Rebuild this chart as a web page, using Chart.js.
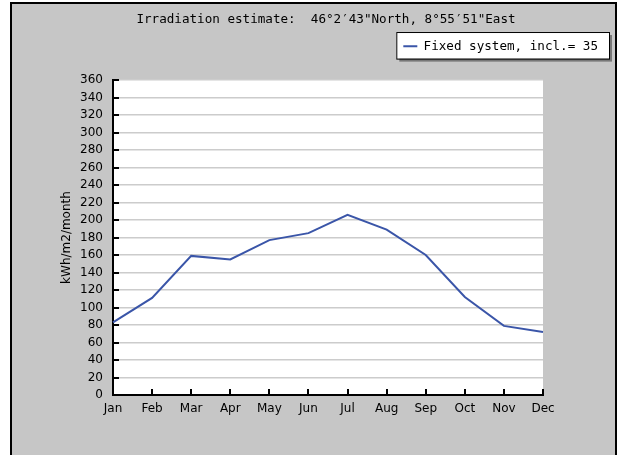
<!DOCTYPE html>
<html>
<head>
<meta charset="utf-8">
<script src="https://cdn.jsdelivr.net/npm/chart.js@4/dist/chart.umd.min.js"></script>
<style>
  html, body { margin: 0; padding: 0; background: #fff; }
  #grafico { display: block; }
</style>
</head>
<body>
<canvas id="grafico" width="622" height="455"></canvas>
<script>
const meses = ["Jan", "Feb", "Mar", "Apr", "May", "Jun", "Jul", "Aug", "Sep", "Oct", "Nov", "Dec"]
const irradiacao = [83, 111, 159, 155, 177, 185, 206, 189, 160, 112, 79, 72]
const yMin = 0
const yMax = 360
const yPasso = 20

const titulo = 'Irradiation estimate:  46\u00b02\u203243"North, 8\u00b055\u203251"East'
const serie = "Fixed system, incl.= 35"
const eixoY = "kWh/m2/month"

const azul = "#3a55a8"
const cinza = "#c6c6c6"
const mono = "'DejaVu Sans Mono', monospace"
const sans = "'DejaVu Sans', sans-serif"

// fundo cinza com borda, area do grafico branca, caixa da legenda
const fundo = {
    id: "fundo",
    beforeDraw(chart) {
        const ctx = chart.ctx
        const a = chart.chartArea
        ctx.save()
        ctx.fillStyle = "#fff"
        ctx.fillRect(0, 0, chart.width, chart.height)
        ctx.fillStyle = cinza
        ctx.fillRect(11, 3, 605, 470)
        ctx.strokeStyle = "#000"
        ctx.lineWidth = 2
        ctx.strokeRect(11, 3, 605, 470)
        ctx.fillStyle = "#fff"
        ctx.fillRect(a.left, a.top, a.right - a.left, a.bottom - a.top)

        const hb = chart.legend.legendHitBoxes[0]
        if (hb) {
            const x = hb.left - 7, y = hb.top - 8
            const w = hb.width + 18, h = hb.height + 14
            ctx.fillStyle = "#777"
            ctx.fillRect(x + 3, y + 3, w, h)
            ctx.fillStyle = "#fff"
            ctx.fillRect(x, y, w, h)
            ctx.strokeStyle = "#000"
            ctx.lineWidth = 1
            ctx.strokeRect(x + 0.5, y + 0.5, w, h)
        }
        ctx.restore()
    },
    afterDraw(chart) {
        // marcas curtas para dentro dos eixos
        const ctx = chart.ctx
        const a = chart.chartArea
        const sx = chart.scales.x, sy = chart.scales.y
        ctx.save()
        ctx.strokeStyle = "#000"
        ctx.lineWidth = 2
        ctx.beginPath()
        sy.ticks.forEach(t => {
            const y = Math.round(sy.getPixelForValue(t.value))
            ctx.moveTo(a.left, y)
            ctx.lineTo(a.left + 6, y)
        })
        meses.forEach((m, i) => {
            const x = Math.round(sx.getPixelForValue(i))
            ctx.moveTo(x, a.bottom)
            ctx.lineTo(x, a.bottom - 6)
        })
        ctx.stroke()
        ctx.restore()
    }
}

const grafico = new Chart(document.getElementById("grafico"), {
    type: "line",
    data: {
        labels: meses,
        datasets: [{
            label: serie,
            data: irradiacao,
            borderColor: azul,
            backgroundColor: azul,
            borderWidth: 2,
            pointRadius: 0,
            tension: 0,
            fill: false
        }]
    },
    options: {
        responsive: false,
        animation: false,
        layout: { padding: { left: 46, right: 16, top: 0, bottom: 40 } },
        plugins: {
            title: {
                display: true,
                text: titulo,
                color: "#000",
                font: { family: mono, size: 12.6, weight: "normal" },
                padding: { top: 12.4, bottom: 4.5 }
            },
            legend: {
                display: true,
                position: "top",
                align: "end",
                labels: {
                    usePointStyle: true,
                    pointStyle: "line",
                    pointStyleWidth: 14,
                    padding: 8,
                    color: "#000",
                    font: { family: mono, size: 12.6 }
                }
            },
            tooltip: { enabled: false }
        },
        scales: {
            x: {
                position: "bottom",
                offset: false,
                grid: { display: false, drawTicks: false },
                border: { display: true, color: "#000", width: 2 },
                ticks: { color: "#000", padding: 7, maxRotation: 0, autoSkip: false, font: { family: sans, size: 12 } },
                afterFit: s => { s.height = 20 }
            },
            x2: {
                type: "linear",
                position: "top",
                display: true,
                grid: { display: false, drawTicks: false },
                border: { display: false },
                ticks: { display: false },
                afterFit: s => { s.height = 17.4 }
            },
            y: {
                min: yMin,
                max: yMax,
                grid: { color: "#cccccc", lineWidth: 1.5, drawTicks: false },
                border: { display: true, color: "#000", width: 2 },
                ticks: { stepSize: yPasso, color: "#000", padding: 10, font: { family: sans, size: 12 } },
                title: {
                    display: true,
                    text: eixoY,
                    color: "#000",
                    font: { family: sans, size: 12 },
                    padding: { top: 13.5, bottom: 0 }
                },
                afterFit: s => { s.width = 67 }
            },
            y2: {
                type: "linear",
                position: "right",
                display: true,
                grid: { display: false, drawTicks: false },
                border: { display: false },
                ticks: { display: false },
                afterFit: s => { s.width = 63 }
            }
        }
    },
    plugins: [fundo]
})
</script>
</body>
</html>
